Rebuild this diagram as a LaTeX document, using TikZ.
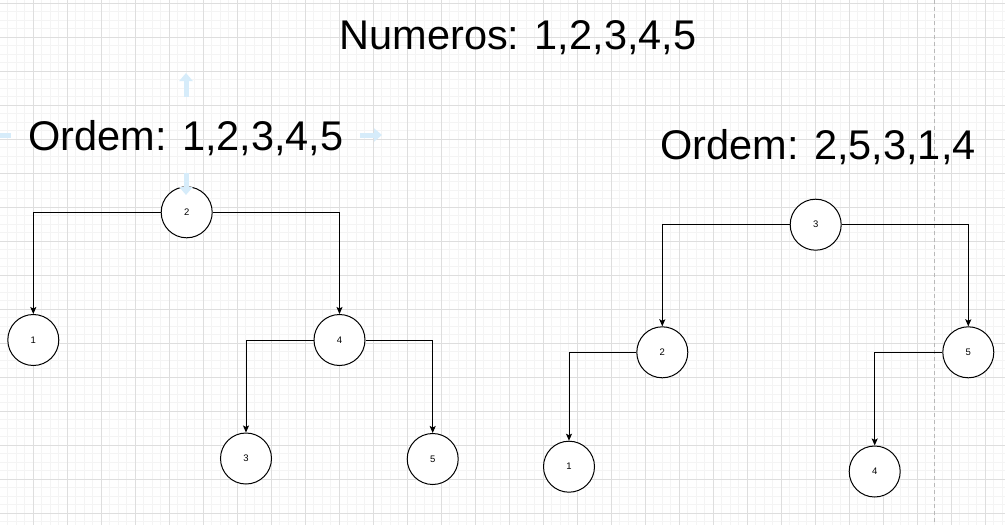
\documentclass[tikz,border=0pt]{standalone}
\usepackage{fontspec}
\setmainfont{Liberation Sans}
\usetikzlibrary{arrows.meta}
\definecolor{hover}{RGB}{214,236,250}
\tikzset{
  minorgrid/.style={draw={rgb,255:red,244;green,244;blue,244}, line width=0.8pt},
  majorgrid/.style={draw={rgb,255:red,222;green,222;blue,222}, line width=0.9pt},
  treenode/.style={circle, draw=black, line width=1pt, fill=white, minimum size=51pt, inner sep=0pt, font=\fontsize{9.5}{11}\selectfont},
  edge/.style={draw=black, line width=1pt, -{Stealth[length=7pt,width=6pt,inset=1.5pt]}},
  title/.style={anchor=base, inner sep=0pt, font=\fontsize{41.5}{48}\selectfont},
  hoverarrow/.style={draw=hover, line width=5pt, -{Triangle[length=8pt,width=13pt]}},
  hovershaft/.style={draw=hover, line width=5pt},
}
\begin{document}
\begin{tikzpicture}[x=1pt,y=-1pt]
\useasboundingbox (0,0) rectangle (1005,525);
\fill[white] (0,0) rectangle (1005,525);
% grid
\foreach \i in {0,...,119} {
  \draw[minorgrid] ({-0.7+8.5*\i},0) -- ({-0.7+8.5*\i},525);
}
\foreach \j in {0,...,62} {
  \draw[minorgrid] (0,{3.3+8.5*\j}) -- (1005,{3.3+8.5*\j});
}
\foreach \i in {0,...,30} {
  \draw[majorgrid] ({-0.7+34*\i},0) -- ({-0.7+34*\i},525);
}
\foreach \j in {0,...,15} {
  \draw[majorgrid] (0,{3.3+34*\j}) -- (1005,{3.3+34*\j});
}
% page break line
\draw[draw={rgb,255:red,185;green,185;blue,185}, line width=0.9pt, dash pattern=on 4pt off 3pt] (934.3,0) -- (934.3,525);

% titles
\node[title] (numeros) at (518,49) {Numeros: 1,2,3,4,5};
\node[title] (ordemL) at (186,150) {Ordem: 1,2,3,4,5};
\node[title] (ordemR) at (818,159) {Ordem: 2,5,3,1,4};

% left tree
\node[treenode] (L2) at (186.7,212.3) {2};
\node[treenode] (L1) at (33.3,340) {1};
\node[treenode] (L4) at (339.5,340) {4};
\node[treenode] (L3) at (246,458.5) {3};
\node[treenode] (L5) at (432.7,459) {5};
\draw[edge] (L2.west) -| (L1.north);
\draw[edge] (L2.east) -| (L4.north);
\draw[edge] (L4.west) -| (L3.north);
\draw[edge] (L4.east) -| (L5.north);

% right tree
\node[treenode] (R3) at (815.7,224.7) {3};
\node[treenode] (R2) at (662.3,352.3) {2};
\node[treenode] (R5) at (968.3,352.3) {5};
\node[treenode] (R1) at (569,466.7) {1};
\node[treenode] (R4) at (874.7,471.5) {4};
\draw[edge] (R3.west) -| (R2.north);
\draw[edge] (R3.east) -| (R5.north);
\draw[edge] (R2.west) -| (R1.north);
\draw[edge] (R5.west) -| (R4.north);

% hover arrows
\draw[hoverarrow] (186,97) -- (186,73);
\draw[hoverarrow] (186,173) -- (186,195);
\draw[hovershaft] (0,135) -- (11,135);
\draw[hoverarrow] (360,135) -- (382,135);
\end{tikzpicture}
\end{document}
